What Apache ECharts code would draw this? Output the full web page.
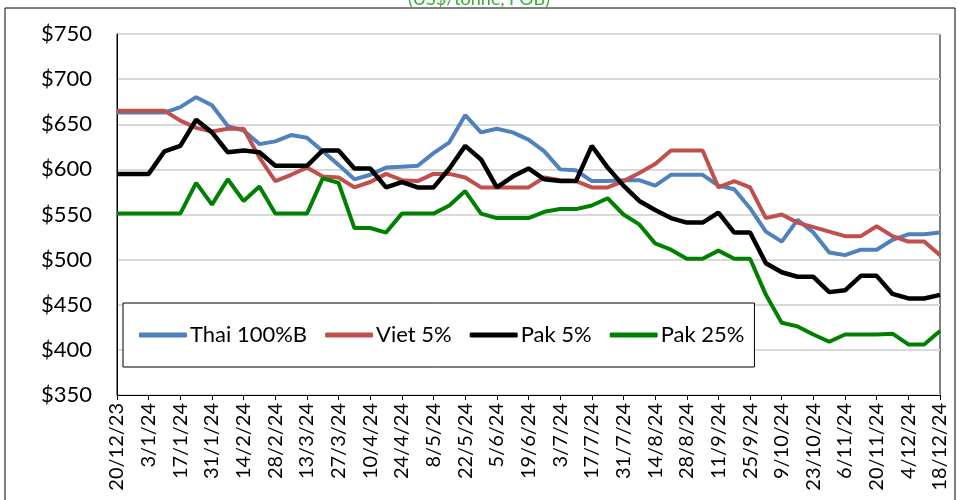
<!DOCTYPE html>
<html>
<head>
<meta charset="utf-8">
<script src="https://cdn.jsdelivr.net/npm/echarts@6/dist/echarts.min.js"></script>
<style>
  html, body { margin: 0; padding: 0; background: #fff; }
  #Grf { width: 958px; height: 500px; }
</style>
</head>
<body>
<div id="Grf"></div>
<script>
const fechas = [
  '20/12/23','27/12/23','3/1/24','10/1/24','17/1/24','24/1/24','31/1/24','7/2/24','14/2/24','21/2/24',
  '28/2/24','6/3/24','13/3/24','20/3/24','27/3/24','3/4/24','10/4/24','17/4/24','24/4/24','1/5/24',
  '8/5/24','15/5/24','22/5/24','29/5/24','5/6/24','12/6/24','19/6/24','26/6/24','3/7/24','10/7/24',
  '17/7/24','24/7/24','31/7/24','7/8/24','14/8/24','21/8/24','28/8/24','4/9/24','11/9/24','18/9/24',
  '25/9/24','2/10/24','9/10/24','16/10/24','23/10/24','30/10/24','6/11/24','13/11/24','20/11/24','27/11/24',
  '4/12/24','11/12/24','18/12/24'
];

const thai = [663,663,663,663,669,680,671,648,643,628,631,638,635,620,605,589,594,602,603,604,
  618,630,660,641,645,641,633,620,600,599,587,587,588,588,582,594,594,594,582,578,
  557,531,520,544,530,508,505,511,511,522,528,528,530];
const viet = [665,665,665,665,654,646,642,645,645,613,587,594,602,592,591,580,586,595,588,587,
  595,595,591,580,580,580,580,591,588,587,580,580,587,596,606,621,621,621,580,587,
  580,546,550,541,536,531,526,526,537,526,520,520,505];
const pak5 = [595,595,595,620,626,655,641,619,621,619,604,604,604,621,621,601,601,580,586,580,
  580,601,626,611,580,592,601,589,587,587,626,602,582,565,555,546,541,541,552,530,
  530,496,486,481,481,464,466,482,482,462,457,457,461];
const pak25 = [551,551,551,551,551,585,561,589,565,581,551,551,551,590,585,535,535,530,551,551,
  551,560,576,551,546,546,546,553,556,556,560,568,550,539,518,511,501,501,510,501,
  501,461,430,426,417,409,417,417,417,418,406,406,421];

const nombres = ['Thai 100%B', 'Viet 5%', 'Pak 5%', 'Pak 25%'];
const colores = ['#4F81BD', '#C0504D', '#000000', '#008000'];

const fuente = 'Lato, "Liberation Sans", sans-serif';

const serie = (nombre, datos, color, ancho) => ({
  name: nombre,
  type: 'line',
  data: datos,
  symbol: 'none',
  smooth: false,
  lineStyle: { color: color, width: ancho },
  itemStyle: { color: color }
});

const getOption = () => {
  return {
    animation: false,
    title: {
      text: '(US$/tonne, FOB)',
      left: 'center',
      top: -15,
      textStyle: { color: '#33B033', fontFamily: fuente, fontSize: 18, fontWeight: 'normal' }
    },
    graphic: [{
      type: 'rect',
      shape: { x: 5, y: 8, width: 950, height: 500 },
      style: { fill: 'none', stroke: '#000', lineWidth: 1 },
      silent: true
    }],
    legend: {
      left: 123,
      top: 303,
      padding: [21, 10, 21, 16],
      icon: 'roundRect',
      itemWidth: 48,
      itemHeight: 5,
      itemGap: 18,
      borderColor: '#000',
      borderWidth: 1,
      backgroundColor: '#fff',
      textStyle: { fontFamily: fuente, fontSize: 22, color: '#000', padding: [0, 0, 0, -2] },
      data: nombres
    },
    grid: {
      left: 117,
      right: 18,
      top: 34,
      bottom: 105,
      show: true,
      borderColor: '#000',
      borderWidth: 1
    },
    xAxis: {
      type: 'category',
      data: fechas,
      boundaryGap: false,
      axisLine: { lineStyle: { color: '#000', width: 1 } },
      axisTick: { show: true, interval: 1, length: 5, lineStyle: { color: '#000' } },
      axisLabel: {
        interval: 1,
        rotate: 90,
        margin: 8,
        fontFamily: fuente,
        fontSize: 20,
        color: '#000'
      },
      splitLine: { show: false }
    },
    yAxis: {
      type: 'value',
      min: 350,
      max: 750,
      interval: 50,
      axisLine: { show: true, lineStyle: { color: '#000' } },
      axisTick: { show: false },
      axisLabel: {
        formatter: '${value}',
        margin: 25,
        fontFamily: fuente,
        fontSize: 22,
        color: '#000'
      },
      splitLine: { lineStyle: { color: '#D9D9D9', width: 2 } }
    },
    series: [
      serie(nombres[0], thai, colores[0], 4),
      serie(nombres[1], viet, colores[1], 4),
      serie(nombres[2], pak5, colores[2], 4.5),
      serie(nombres[3], pak25, colores[3], 4)
    ]
  };
};

const grafica = echarts.init(document.querySelector('#Grf'));
grafica.setOption(getOption());
</script>
</body>
</html>
